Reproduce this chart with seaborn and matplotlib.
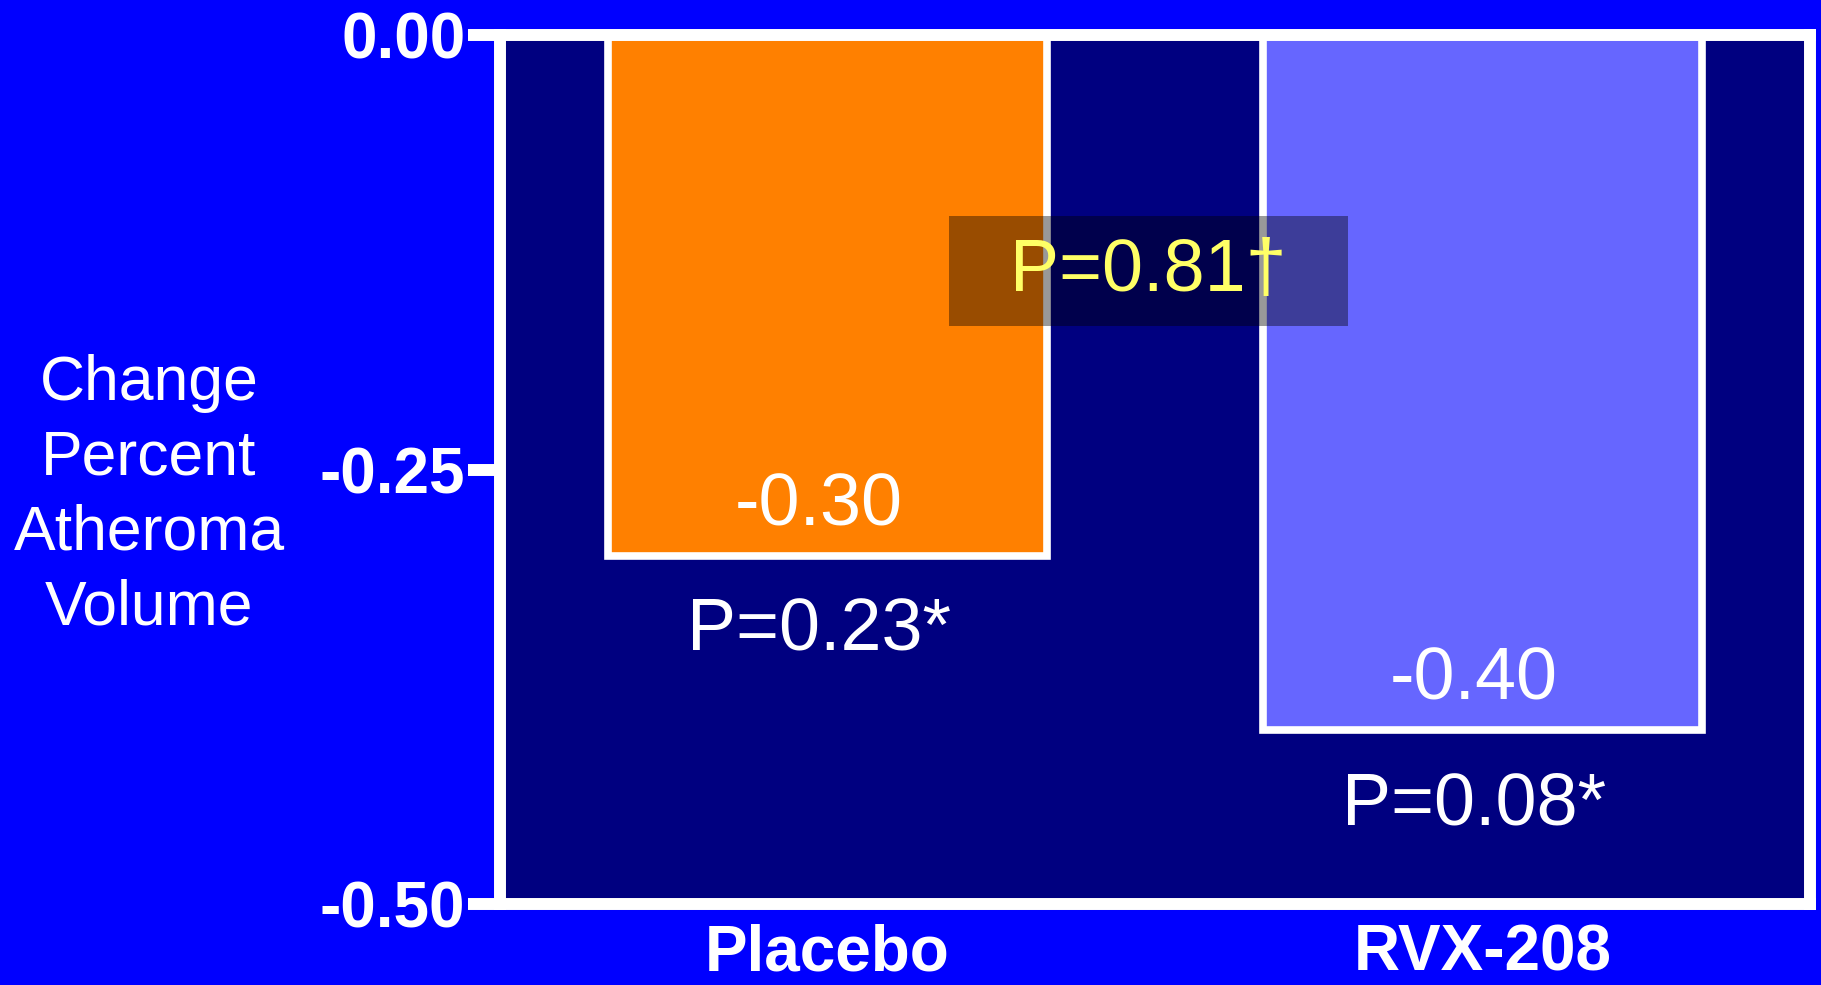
import numpy as np
import pandas as pd
import matplotlib
matplotlib.use("Agg")
import matplotlib.pyplot as plt
import seaborn as sns

# data
groups = ["Placebo", "RVX-208"]
change = [-0.30, -0.40]
value_labels = ["-0.30", "-0.40"]
p_within = ["P=0.23*", "P=0.08*"]
p_between = "P=0.81\u2020"
bar_colors = ["#FF8000", "#6666FF"]
yticks = [0.0, -0.25, -0.50]
ytick_labels = ["0.00", "-0.25", "-0.50"]

sns.set_style("ticks")
plt.rcParams["font.family"] = ["Liberation Sans", "DejaVu Sans"]

fig = plt.figure(figsize=(18.21, 9.85), dpi=100, facecolor="#0000FF")
ax = fig.add_axes([0.2746, 0.0822, 0.7194, 0.8823])
ax.set_facecolor("#000080")

df = pd.DataFrame({"group": groups, "change": change})
sns.barplot(data=df, x="group", y="change", hue="group", palette=bar_colors,
            legend=False, width=0.67, edgecolor="white", linewidth=5.5,
            saturation=1, ax=ax)

ax.set_ylim(-0.5, 0)
ax.set_xlim(-0.5, 1.5)
ax.set_yticks(yticks)
ax.set_yticklabels(ytick_labels)

for sp in ax.spines.values():
    sp.set_color("white")
    sp.set_linewidth(8.6)
    sp.set_visible(True)

ax.tick_params(axis="y", colors="white", length=23, width=8.6, pad=2, labelsize=46)
ax.tick_params(axis="x", colors="white", length=0, pad=14, labelsize=46)
for lbl in ax.get_xticklabels() + ax.get_yticklabels():
    lbl.set_fontweight("bold")

ax.set_xlabel("")
ax.set_ylabel("Change\nPercent\nAtheroma\nVolume", rotation=0, color="white",
              fontsize=45, ha="center", va="center", linespacing=1.34)
ax.yaxis.set_label_coords(-0.268, 0.47)

# value inside bar and within-group p value below bar
for i, v in enumerate(change):
    ax.annotate(value_labels[i], xy=(i, v), xytext=(-6, 22), textcoords="offset points",
                ha="center", va="baseline", color="white", fontsize=53)
    ax.annotate(p_within[i], xy=(i, v), xytext=(-6, -68), textcoords="offset points",
                ha="center", va="baseline", color="white", fontsize=53)

# between-group p value
ax.text(0.49, -0.136, "  " + p_between + "  ", ha="center", va="center",
        color="#FFFF66", fontsize=53,
        bbox=dict(boxstyle="square,pad=0.28", facecolor="black", alpha=0.4, edgecolor="none"))

fig.savefig("out.png", dpi=100, facecolor=fig.get_facecolor())
